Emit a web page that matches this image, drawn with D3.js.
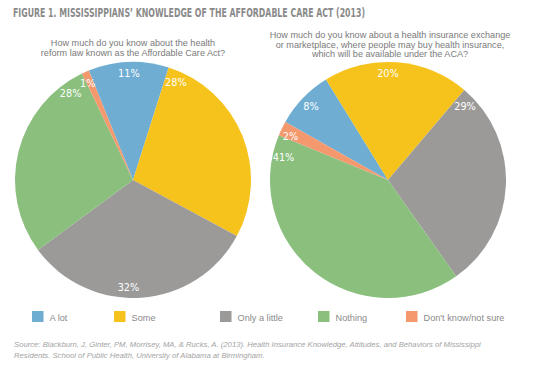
<!DOCTYPE html>
<html>
<head>
<meta charset="utf-8">
<script src="https://cdn.jsdelivr.net/npm/d3@7"></script>
<style>
  html, body { margin: 0; padding: 0; background: #fff; }
  svg { display: block; }
</style>
</head>
<body>
<svg id="chart" width="546" height="372"></svg>
<script>
// ---- data ----
const categories = ["A lot", "Some", "Only a little", "Nothing", "Don't know/not sure"];
const leftValues = [11, 28, 32, 28, 1];
const rightValues = [8, 20, 29, 41, 2];
const leftLabels = ["11%", "28%", "32%", "28%", "1%"];
const rightLabels = ["8%", "20%", "29%", "41%", "2%"];
const colors = ["#6fadd2", "#f6c31d", "#9c9a99", "#8abf7e", "#f4986e"];
const title = "FIGURE 1. MISSISSIPPIANS\u2019 KNOWLEDGE OF THE AFFORDABLE CARE ACT (2013)";
const leftQuestion = ["How much do you know about the health", "reform law known as the Affordable Care Act?"];
const rightQuestion = ["How much do you know about a health insurance exchange",
  "or marketplace, where people may buy health insurance,",
  "which will be available under the ACA?"];
const sourceLines = [
  "Source: Blackburn, J, Ginter, PM, Morrisey, MA, & Rucks, A. (2013). Health Insurance Knowledge, Attitudes, and Behaviors of Mississippi",
  "Residents. School of Public Health, University of Alabama at Birmingham."
];
// label placement within each slice (fraction of slice angle)
const leftLabelFrac = [0.5, 0.06, 0.556, 0.9, 0.17];
const rightLabelFrac = [0.5, 0.44, 0.055, 0.934, 0.28];

// ---- drawing ----
const svg = d3.select("#chart");
const condensed = "'Liberation Sans Narrow', 'Arial Narrow', 'DejaVu Sans Condensed', sans-serif";
const sans = "'Liberation Sans', Arial, Helvetica, sans-serif";
const deg = Math.PI / 180;

svg.append("text")
  .attr("x", 13).attr("y", 16.5)
  .attr("font-family", condensed)
  .attr("font-weight", "bold")
  .attr("font-size", 11.5)
  .attr("fill", "#8a8a8a")
  .attr("textLength", 352)
  .attr("lengthAdjust", "spacingAndGlyphs")
  .text(title);

function question(lines, cx, y0) {
  svg.append("g").selectAll("text").data(lines).join("text")
    .attr("x", cx)
    .attr("y", (d, i) => y0 + i * 9.5)
    .attr("text-anchor", "middle")
    .attr("font-family", sans)
    .attr("font-size", 9.1)
    .attr("fill", "#7a7a7a")
    .text(d => d);
}
question(leftQuestion, 133, 46.3);
question(rightQuestion, 390, 38);

const R = 118;
function drawPie(values, labels, fracs, cx, cy, startDeg) {
  const pie = d3.pie().sort(null).value(d => d)
    .startAngle(startDeg * deg).endAngle(startDeg * deg + 2 * Math.PI);
  const arcs = pie(values);
  const arc = d3.arc().innerRadius(0).outerRadius(R);
  const g = svg.append("g").attr("transform", `translate(${cx},${cy})`);
  g.selectAll("path").data(arcs).join("path")
    .attr("d", arc)
    .attr("fill", (d, i) => colors[i])
    .attr("stroke", "none");
  const lr = R - 11;
  g.selectAll("text").data(arcs).join("text")
    .attr("transform", (d, i) => {
      const a = d.startAngle + (d.endAngle - d.startAngle) * fracs[i];
      return `translate(${lr * Math.sin(a)},${-lr * Math.cos(a)})`;
    })
    .attr("dy", "0.36em")
    .attr("text-anchor", "middle")
    .attr("font-family", condensed)
    .attr("font-size", 10.8)
    .attr("fill", "#ffffff")
    .text((d, i) => labels[i]);
}
drawPie(leftValues, leftLabels, leftLabelFrac, 133, 180, -22);
drawPie(rightValues, rightLabels, rightLabelFrac, 388, 180, -60.5);

// legend
const legendPos = [32, 114, 220, 318, 406];
const lg = svg.append("g").selectAll("g").data(categories).join("g")
  .attr("transform", (d, i) => `translate(${legendPos[i]},311)`);
lg.append("rect").attr("width", 11.5).attr("height", 11).attr("fill", (d, i) => colors[i]);
lg.append("text").attr("x", 17.5).attr("y", 9.5)
  .attr("font-family", sans).attr("font-size", 9.2).attr("fill", "#8a8a8a")
  .text(d => d);

// source
svg.append("g").selectAll("text").data(sourceLines).join("text")
  .attr("x", 14)
  .attr("y", (d, i) => 346.5 + i * 11.5)
  .attr("font-family", sans)
  .attr("font-style", "italic")
  .attr("font-size", 7.7)
  .attr("fill", "#a3a3a3")
  .text(d => d);
</script>
</body>
</html>
